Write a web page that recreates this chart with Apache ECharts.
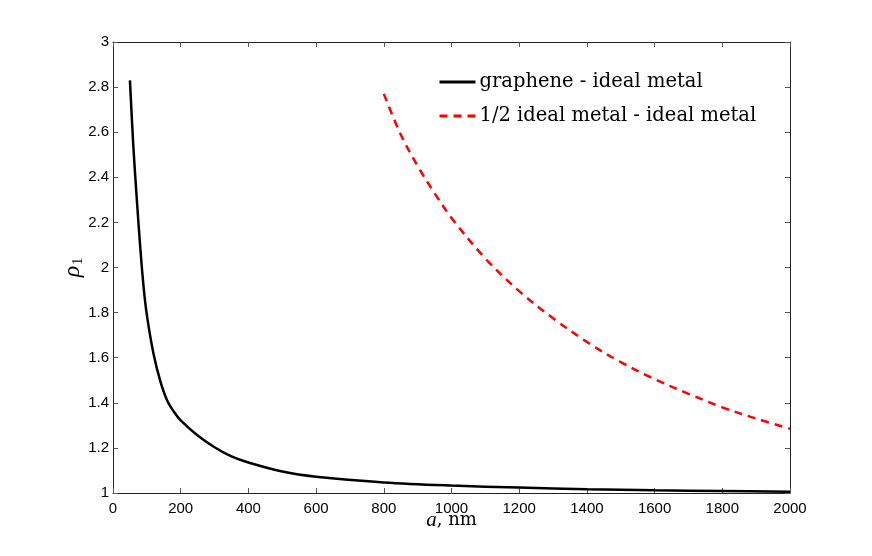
<!DOCTYPE html>
<html>
<head>
<meta charset="utf-8">
<script src="https://cdn.jsdelivr.net/npm/echarts@6/dist/echarts.min.js"></script>
<style>
  html, body { margin: 0; padding: 0; background: #fff; }
  #chart { width: 872px; height: 556px; }
</style>
</head>
<body>
<div id="chart"></div>
<script>
// graphene - ideal metal
const grapheneA = [50, 60, 70, 80, 90, 100, 120, 140, 160, 180, 200, 250, 300, 350, 400, 500, 600, 800, 1000, 1200, 1400, 1600, 1800, 2000];
const grapheneRho = [2.83, 2.54, 2.31, 2.10, 1.92, 1.79, 1.615, 1.495, 1.41, 1.36, 1.322, 1.255, 1.203, 1.162, 1.135, 1.095, 1.072, 1.047, 1.033, 1.024, 1.017, 1.012, 1.009, 1.006];

// 1/2 ideal metal - ideal metal
const halfMetalA = [800, 850, 900, 950, 1000, 1100, 1200, 1300, 1400, 1500, 1600, 1700, 1800, 1900, 2000];
const halfMetalRho = [2.77, 2.59, 2.45, 2.33, 2.22, 2.04, 1.895, 1.775, 1.67, 1.58, 1.505, 1.44, 1.38, 1.33, 1.285];

const seriesNames = ["graphene - ideal metal", "1/2 ideal metal - ideal metal"];

const zip = (xs, ys) => xs.map((x, i) => [x, ys[i]]);

const chart = echarts.init(document.getElementById("chart"));

const tickFont = { fontFamily: "Liberation Sans", fontSize: 15, color: "#000" };
const axisLine = { onZero: false, lineStyle: { color: "#222", width: 1 } };
const tick = { inside: true, length: 5, lineStyle: { color: "#555" } };

chart.setOption({
  animation: false,
  backgroundColor: "#fff",
  grid: { left: 113, right: 82, top: 42, bottom: 63 },
  legend: {
    left: 438,
    top: 72,
    padding: 0,
    orient: "vertical",
    itemWidth: 36,
    itemHeight: 14,
    itemGap: 14,
    itemStyle: { opacity: 0 },
    lineStyle: { width: 3 },
    textStyle: { fontFamily: "DejaVu Serif", fontSize: 19.5, color: "#000", padding: [0, 0, 0, -1] },
    data: seriesNames
  },
  xAxis: [
    {
      type: "value", min: 0, max: 2000, interval: 200,
      axisLine: axisLine, axisTick: tick,
      axisLabel: Object.assign({ margin: 8, formatter: v => String(v) }, tickFont),
      splitLine: { show: false },
      name: "{i|a}{t|, nm}",
      nameLocation: "middle",
      nameMoveOverlap: false,
      nameGap: 17,
      nameTextStyle: {
        rich: {
          i: { fontFamily: "Liberation Serif", fontStyle: "italic", fontSize: 21, color: "#000" },
          t: { fontFamily: "DejaVu Serif", fontSize: 18, color: "#000" }
        }
      }
    },
    {
      type: "value", position: "top", min: 0, max: 2000, interval: 200,
      axisLine: axisLine, axisTick: tick, axisLabel: { show: false }, splitLine: { show: false }
    }
  ],
  yAxis: [
    {
      type: "value", min: 1, max: 3, interval: 0.2,
      axisLine: axisLine, axisTick: tick,
      axisLabel: Object.assign({ margin: 4 }, tickFont),
      splitLine: { show: false },
      name: "{r|ρ}{s|1}",
      nameLocation: "middle",
      nameMoveOverlap: false,
      nameGap: 28,
      nameTextStyle: {
        rich: {
          r: { fontFamily: "Liberation Serif", fontStyle: "italic", fontSize: 24, color: "#000", verticalAlign: "bottom" },
          s: { fontFamily: "Liberation Serif", fontSize: 14, color: "#000", padding: [12, 0, 0, 1], verticalAlign: "bottom" }
        }
      }
    },
    {
      type: "value", position: "right", min: 1, max: 3, interval: 0.2,
      axisLine: axisLine, axisTick: tick, axisLabel: { show: false }, splitLine: { show: false }
    }
  ],
  series: [
    {
      name: seriesNames[0],
      type: "line",
      data: zip(grapheneA, grapheneRho),
      smooth: 0.35,
      symbol: "none",
      lineStyle: { color: "#000", width: 2.5 },
      itemStyle: { color: "#000" }
    },
    {
      name: seriesNames[1],
      type: "line",
      data: zip(halfMetalA, halfMetalRho),
      smooth: 0.35,
      symbol: "none",
      lineStyle: { color: "#ff0000", width: 2.5, type: [8, 6] },
      itemStyle: { color: "#ff0000" }
    }
  ]
});
</script>
</body>
</html>
